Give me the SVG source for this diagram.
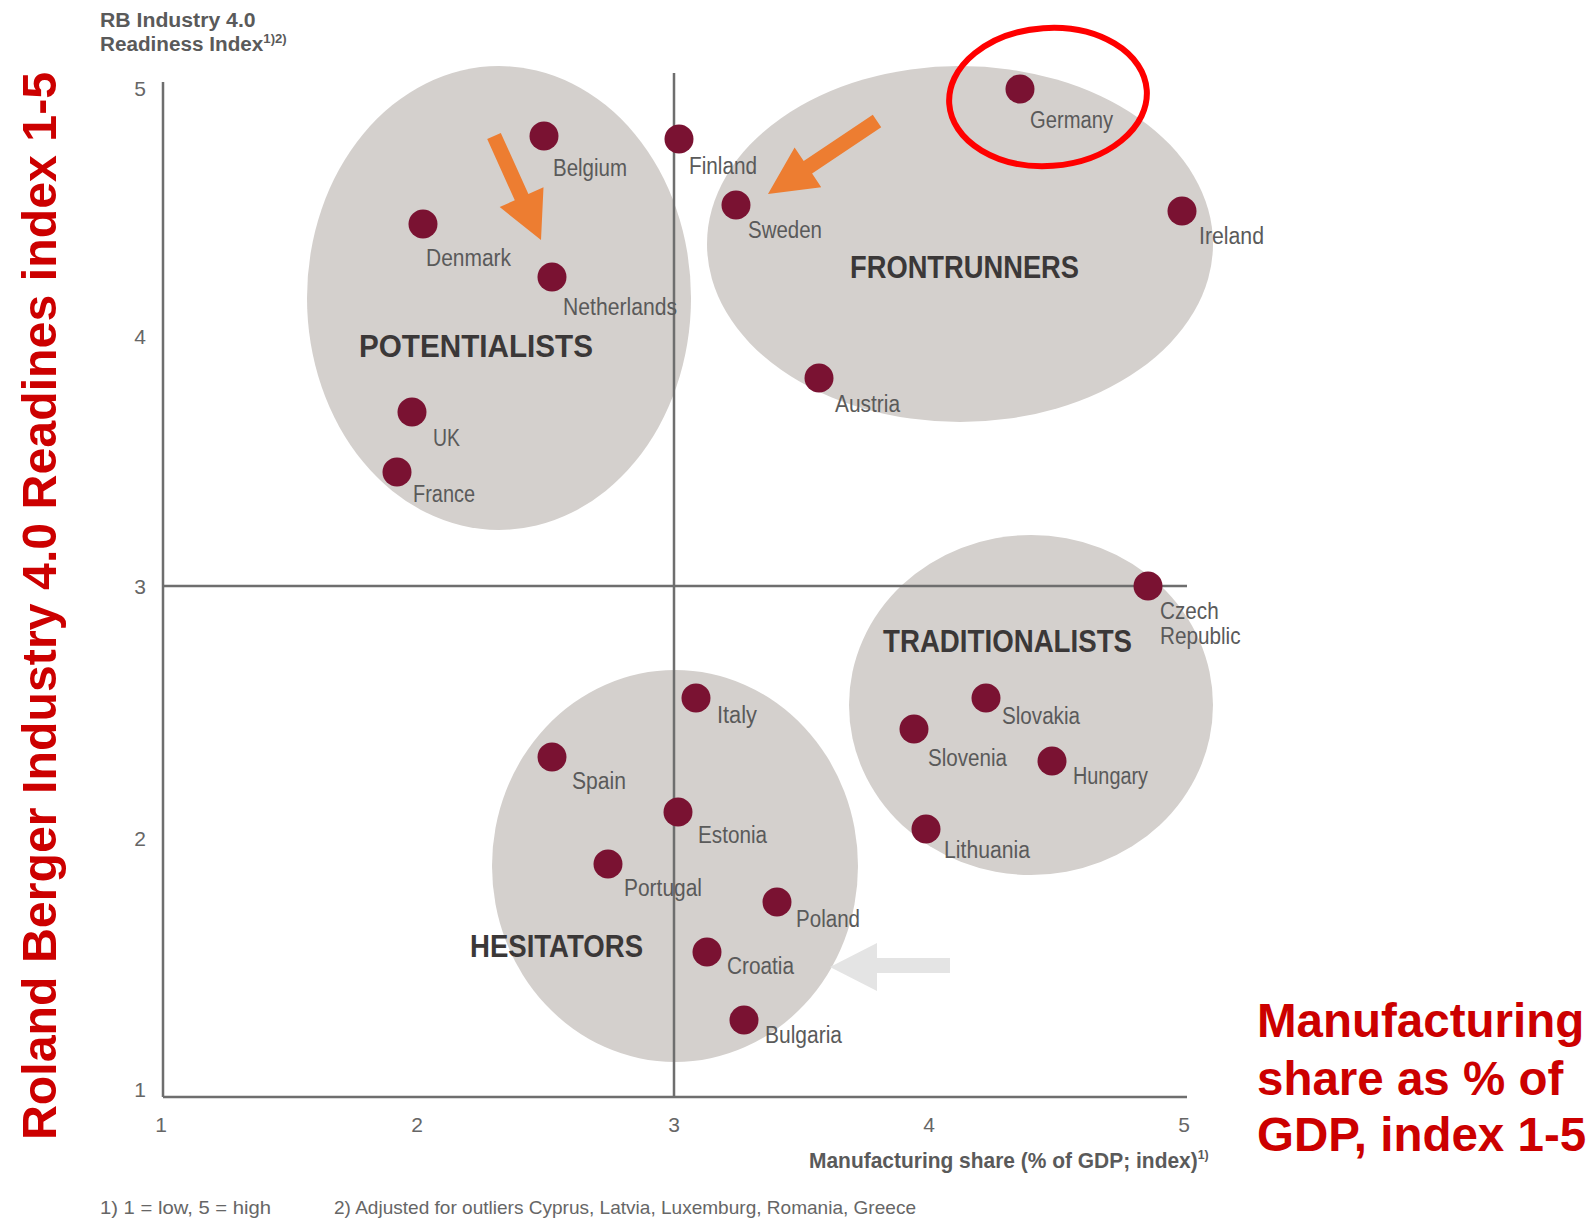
<svg xmlns="http://www.w3.org/2000/svg" width="1596" height="1219" viewBox="0 0 1596 1219">
<style>
.bg{fill:#ffffff}
.cluster{fill:#d4d0cd}
.axis{stroke:#6e6e6e;stroke-width:2.5;fill:none}
.dot{fill:#7a1232}
.lbl{font-family:"Liberation Sans",Arial,sans-serif;font-size:23px;fill:#5a5a5a}
.cat{font-family:"Liberation Sans",Arial,sans-serif;font-size:32px;font-weight:bold;fill:#3b3838}
.tick{font-family:"Liberation Sans",Arial,sans-serif;font-size:21px;fill:#666666;text-anchor:middle}
.ttl{font-family:"Liberation Sans",Arial,sans-serif;font-size:22px;font-weight:bold;fill:#5a5a5a}
.ttl2{font-size:20.5px}
.sup{font-size:13px}
.foot{font-family:"Liberation Sans",Arial,sans-serif;font-size:19px;fill:#666666}
.red{font-family:"Liberation Sans",Arial,sans-serif;font-weight:bold;fill:#cc0000}
.orange{fill:#ed7d31}
.grey{fill:#e4e4e4}
</style>
<rect class="bg" x="0" y="0" width="1596" height="1219"/>

<g id="clusters">
  <ellipse id="potentialists-area" class="cluster" cx="499" cy="298" rx="192" ry="232"/>
  <ellipse id="frontrunners-area" class="cluster" cx="960" cy="244" rx="253" ry="178"/>
  <ellipse id="traditionalists-area" class="cluster" cx="1031" cy="705" rx="182" ry="170"/>
  <ellipse id="hesitators-area" class="cluster" cx="675" cy="866" rx="183" ry="196"/>
</g>

<g id="axes">
  <line class="axis" x1="163" y1="82" x2="163" y2="1097"/>
  <line class="axis" x1="163" y1="1097" x2="1187" y2="1097"/>
  <line class="axis" x1="674" y1="73" x2="674" y2="1097"/>
  <line class="axis" x1="163" y1="586" x2="1187" y2="586"/>
  <text class="tick" x="140" y="96">5</text>
  <text class="tick" x="140" y="344">4</text>
  <text class="tick" x="140" y="594">3</text>
  <text class="tick" x="140" y="846">2</text>
  <text class="tick" x="140" y="1097">1</text>
  <text class="tick" x="161" y="1132">1</text>
  <text class="tick" x="417" y="1132">2</text>
  <text class="tick" x="674" y="1132">3</text>
  <text class="tick" x="929" y="1132">4</text>
  <text class="tick" x="1184" y="1132">5</text>
  <text class="ttl ttl2" transform="translate(100,27) scale(1.035,1)">RB Industry 4.0</text>
  <text class="ttl ttl2" transform="translate(100,51) scale(1.01,1)">Readiness Index<tspan class="sup" dy="-8">1)2)</tspan></text>
  <text class="ttl" transform="translate(809,1168) scale(0.953,1)">Manufacturing share (% of GDP; index)<tspan class="sup" dy="-9">1)</tspan></text>
</g>

<g id="category-labels">
  <text class="cat" transform="translate(359,357) scale(0.927,1)" textLength="252.4" lengthAdjust="spacingAndGlyphs">POTENTIALISTS</text>
  <text class="cat" transform="translate(850,278) scale(0.853,1)" textLength="268.5" lengthAdjust="spacingAndGlyphs">FRONTRUNNERS</text>
  <text class="cat" transform="translate(883,652) scale(0.865,1)" textLength="287.9" lengthAdjust="spacingAndGlyphs">TRADITIONALISTS</text>
  <text class="cat" transform="translate(470,957) scale(0.84,1)" textLength="206" lengthAdjust="spacingAndGlyphs">HESITATORS</text>
</g>

<g id="belgium"><circle class="dot" cx="544" cy="136" r="14.5"/><text class="lbl" x="553" y="176" textLength="74" lengthAdjust="spacingAndGlyphs">Belgium</text></g>
<g id="finland"><circle class="dot" cx="679" cy="139" r="14.5"/><text class="lbl" x="689" y="174" textLength="68" lengthAdjust="spacingAndGlyphs">Finland</text></g>
<g id="sweden"><circle class="dot" cx="736" cy="205" r="14.5"/><text class="lbl" x="748" y="238" textLength="74" lengthAdjust="spacingAndGlyphs">Sweden</text></g>
<g id="germany"><circle class="dot" cx="1020" cy="89" r="14.5"/><text class="lbl" x="1030" y="128" textLength="83" lengthAdjust="spacingAndGlyphs">Germany</text></g>
<g id="ireland"><circle class="dot" cx="1182" cy="211" r="14.5"/><text class="lbl" x="1199" y="244" textLength="65" lengthAdjust="spacingAndGlyphs">Ireland</text></g>
<g id="denmark"><circle class="dot" cx="423" cy="224" r="14.5"/><text class="lbl" x="426" y="266" textLength="85" lengthAdjust="spacingAndGlyphs">Denmark</text></g>
<g id="netherlands"><circle class="dot" cx="552" cy="277" r="14.5"/><text class="lbl" x="563" y="315" textLength="114" lengthAdjust="spacingAndGlyphs">Netherlands</text></g>
<g id="austria"><circle class="dot" cx="819" cy="378" r="14.5"/><text class="lbl" x="835" y="412" textLength="65" lengthAdjust="spacingAndGlyphs">Austria</text></g>
<g id="uk"><circle class="dot" cx="412" cy="412" r="14.5"/><text class="lbl" x="433" y="446" textLength="27" lengthAdjust="spacingAndGlyphs">UK</text></g>
<g id="france"><circle class="dot" cx="397" cy="472" r="14.5"/><text class="lbl" x="413" y="502" textLength="62" lengthAdjust="spacingAndGlyphs">France</text></g>
<g id="czech-republic"><circle class="dot" cx="1148" cy="586" r="14.5"/><text class="lbl" transform="translate(1160 619) scale(0.9 1)"><tspan x="0" y="0">Czech</tspan><tspan x="0" y="25">Republic</tspan></text></g>
<g id="slovakia"><circle class="dot" cx="986" cy="698" r="14.5"/><text class="lbl" x="1002" y="724" textLength="78" lengthAdjust="spacingAndGlyphs">Slovakia</text></g>
<g id="slovenia"><circle class="dot" cx="914" cy="729" r="14.5"/><text class="lbl" x="928" y="766" textLength="79" lengthAdjust="spacingAndGlyphs">Slovenia</text></g>
<g id="hungary"><circle class="dot" cx="1052" cy="761" r="14.5"/><text class="lbl" x="1073" y="784" textLength="75" lengthAdjust="spacingAndGlyphs">Hungary</text></g>
<g id="lithuania"><circle class="dot" cx="926" cy="829" r="14.5"/><text class="lbl" x="944" y="858" textLength="86" lengthAdjust="spacingAndGlyphs">Lithuania</text></g>
<g id="italy"><circle class="dot" cx="696" cy="698" r="14.5"/><text class="lbl" x="717" y="723" textLength="40" lengthAdjust="spacingAndGlyphs">Italy</text></g>
<g id="spain"><circle class="dot" cx="552" cy="757" r="14.5"/><text class="lbl" x="572" y="789" textLength="54" lengthAdjust="spacingAndGlyphs">Spain</text></g>
<g id="estonia"><circle class="dot" cx="678" cy="812" r="14.5"/><text class="lbl" x="698" y="843" textLength="69" lengthAdjust="spacingAndGlyphs">Estonia</text></g>
<g id="portugal"><circle class="dot" cx="608" cy="864" r="14.5"/><text class="lbl" x="624" y="896" textLength="78" lengthAdjust="spacingAndGlyphs">Portugal</text></g>
<g id="poland"><circle class="dot" cx="777" cy="902" r="14.5"/><text class="lbl" x="796" y="927" textLength="64" lengthAdjust="spacingAndGlyphs">Poland</text></g>
<g id="croatia"><circle class="dot" cx="707" cy="952" r="14.5"/><text class="lbl" x="727" y="974" textLength="67" lengthAdjust="spacingAndGlyphs">Croatia</text></g>
<g id="bulgaria"><circle class="dot" cx="744" cy="1020" r="14.5"/><text class="lbl" x="765" y="1043" textLength="77" lengthAdjust="spacingAndGlyphs">Bulgaria</text></g>

<g id="connectors">
  <polygon class="orange" points="487.2,139.1 514.8,200.3 499.7,207.1 541,240 543.5,187.3 528.4,194.1 500.8,132.9"/>
  <polygon class="orange" points="872.8,114.8 803.7,161.1 794.6,147.4 768,194 821.2,187.2 812.1,173.5 881.2,127.2"/>
  <polygon class="grey" points="830,967 877,943 877,958 950,958 950,973 877,973 877,991"/>
</g>

<g id="germany-highlight">
  <ellipse cx="1048" cy="97" rx="99" ry="69" transform="rotate(-4 1048 97)" fill="none" stroke="#ff0000" stroke-width="6"/>
</g>

<g id="footnotes">
  <text class="foot" x="100" y="1214" textLength="171" lengthAdjust="spacingAndGlyphs">1) 1 = low,  5 = high</text>
  <text class="foot" x="334" y="1214" textLength="582" lengthAdjust="spacingAndGlyphs">2) Adjusted for outliers Cyprus, Latvia, Luxemburg, Romania, Greece</text>
</g>

<g id="annotations">
  <text class="red" x="56" y="606" font-size="48.3" text-anchor="middle" transform="rotate(-90 56 606)">Roland Berger Industry 4.0 Readines index 1-5</text>
  <text class="red" x="1257" y="1037" font-size="47.5">Manufacturing</text>
  <text class="red" x="1257" y="1095" font-size="47.5">share as % of</text>
  <text class="red" x="1257" y="1151" font-size="47.5">GDP, index 1-5</text>
</g>
</svg>
